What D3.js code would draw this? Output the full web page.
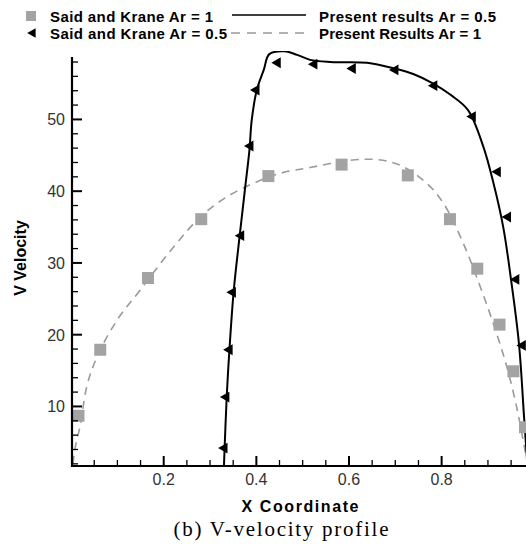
<!DOCTYPE html>
<html>
<head>
<meta charset="utf-8">
<script src="https://cdn.jsdelivr.net/npm/d3@7"></script>
<style>
  html, body { margin: 0; padding: 0; background: #fff; }
  svg { display: block; }
</style>
</head>
<body>
<svg id="chart" width="526" height="549"></svg>
<script>
// Experimental data: Said and Krane, Ar = 1 (grey squares)
const saidAr1X = [0.016, 0.063, 0.166, 0.281, 0.426, 0.584, 0.727, 0.818, 0.877, 0.925, 0.955, 0.980];
const saidAr1Y = [8.7, 17.9, 27.9, 36.1, 42.1, 43.7, 42.2, 36.1, 29.2, 21.4, 14.9, 7.1];

// Experimental data: Said and Krane, Ar = 0.5 (black left triangles)
const saidAr05X = [0.329, 0.333, 0.340, 0.347, 0.365, 0.385, 0.398, 0.444, 0.523, 0.606, 0.698, 0.782, 0.865, 0.919, 0.941, 0.959, 0.973];
const saidAr05Y = [4.2, 11.3, 17.9, 25.9, 33.8, 46.3, 54.1, 57.9, 57.7, 57.1, 56.9, 54.7, 50.4, 42.7, 36.4, 27.7, 18.5];

// Computed profile, Ar = 0.5 (solid line)
const presAr05X = [0.330, 0.336, 0.342, 0.351, 0.364, 0.376, 0.385, 0.390, 0.401, 0.416, 0.428, 0.461, 0.488, 0.516, 0.559, 0.639, 0.698, 0.740, 0.782, 0.820, 0.857, 0.890, 0.912, 0.933, 0.950, 0.967, 0.978, 0.985];
const presAr05Y = [1.7, 11.3, 18.0, 26.0, 33.8, 40.6, 45.7, 49.9, 54.1, 56.9, 59.1, 59.5, 59.0, 58.3, 58.0, 57.9, 57.1, 56.3, 55.0, 53.4, 51.3, 46.2, 41.1, 35.0, 27.6, 18.7, 8.5, 2.0];

// Computed profile, Ar = 1 (grey dashed line)
const presAr1X = [0.004, 0.009, 0.020, 0.034, 0.056, 0.099, 0.149, 0.221, 0.279, 0.336, 0.394, 0.452, 0.516, 0.603, 0.660, 0.711, 0.768, 0.804, 0.847, 0.894, 0.919, 0.941, 0.962, 0.980, 0.986];
const presAr1Y = [2.0, 4.3, 7.4, 12.8, 16.9, 22.0, 26.2, 32.2, 36.4, 39.2, 41.1, 42.5, 43.3, 44.3, 44.4, 43.6, 41.1, 38.3, 32.7, 24.8, 20.1, 15.5, 9.9, 3.9, 1.8];

// Axis ticks
const xMajorTicks = [0.2, 0.4, 0.6, 0.8];
const xTickLabels = ["0.2", "0.4", "0.6", "0.8"];
const yMajorTicks = [10, 20, 30, 40, 50];
const yTickLabels = ["10", "20", "30", "40", "50"];

const xMinorTicks = d3.range(0.05, 0.98, 0.05).filter(v => !xMajorTicks.some(m => Math.abs(m - v) < 1e-6));
const yMinorTicks = d3.range(2, 59, 2).filter(v => v % 10 !== 0);

const svg = d3.select("#chart");
const plotL = 72, plotR = 525, plotT = 57, plotB = 466;

const x = d3.scaleLinear().domain([0.002, 0.98]).range([plotL, plotR]);
const y = d3.scaleLinear().domain([1.7, 58.7]).range([plotB, plotT]);

const zip = (xs, ys) => xs.map((v, i) => ({ x: v, y: ys[i] }));

// Clip region for the plotted data
svg.append("defs").append("clipPath").attr("id", "plotClip")
  .append("rect").attr("x", plotL).attr("y", plotT - 6).attr("width", plotR - plotL + 2).attr("height", plotB - plotT + 6);

const plot = svg.append("g").attr("clip-path", "url(#plotClip)");

const line = d3.line().x(d => x(d.x)).y(d => y(d.y)).curve(d3.curveCatmullRom.alpha(0.5));

// Dashed grey curve (Ar = 1)
plot.append("path")
  .datum(zip(presAr1X, presAr1Y))
  .attr("d", line)
  .attr("fill", "none")
  .attr("stroke", "#9a9a9a")
  .attr("stroke-width", 1.6)
  .attr("stroke-dasharray", "8,6");

// Solid black curve (Ar = 0.5)
plot.append("path")
  .datum(zip(presAr05X, presAr05Y))
  .attr("d", line)
  .attr("fill", "none")
  .attr("stroke", "#000")
  .attr("stroke-width", 2);

// Square markers
const sq = 12;
plot.selectAll("rect.sq")
  .data(zip(saidAr1X, saidAr1Y))
  .join("rect")
  .attr("class", "sq")
  .attr("x", d => x(d.x) - sq / 2)
  .attr("y", d => y(d.y) - sq / 2)
  .attr("width", sq)
  .attr("height", sq)
  .attr("fill", "#a3a3a3");

// Left-pointing triangle markers
const tri = (cx, cy, s) => `M${cx - s * 0.6},${cy} L${cx + s * 0.45},${cy - s * 0.6} L${cx + s * 0.45},${cy + s * 0.6} Z`;
plot.selectAll("path.tri")
  .data(zip(saidAr05X, saidAr05Y))
  .join("path")
  .attr("class", "tri")
  .attr("d", d => tri(x(d.x), y(d.y), 9))
  .attr("fill", "#000");

// Axes
const axes = svg.append("g").attr("stroke", "#000");
axes.append("line").attr("x1", plotL).attr("x2", plotL).attr("y1", plotT).attr("y2", plotB + 1).attr("stroke-width", 2.2);
axes.append("line").attr("x1", plotL - 1).attr("x2", 526).attr("y1", plotB).attr("y2", plotB).attr("stroke-width", 2.2);

// Ticks point into the plot
axes.selectAll("line.xmaj").data(xMajorTicks).join("line")
  .attr("x1", d => x(d)).attr("x2", d => x(d)).attr("y1", plotB).attr("y2", plotB - 10).attr("stroke-width", 2);
axes.selectAll("line.xmin").data(xMinorTicks).join("line")
  .attr("x1", d => x(d)).attr("x2", d => x(d)).attr("y1", plotB).attr("y2", plotB - 6).attr("stroke-width", 1.3);
axes.selectAll("line.ymaj").data(yMajorTicks).join("line")
  .attr("x1", plotL).attr("x2", plotL + 10).attr("y1", d => y(d)).attr("y2", d => y(d)).attr("stroke-width", 2);
axes.selectAll("line.ymin").data(yMinorTicks).join("line")
  .attr("x1", plotL).attr("x2", plotL + 6).attr("y1", d => y(d)).attr("y2", d => y(d)).attr("stroke-width", 1.3);

// Tick labels
const labelFont = "'Liberation Sans', Arial, sans-serif";
svg.selectAll("text.xl").data(xMajorTicks).join("text")
  .attr("x", d => x(d)).attr("y", 485)
  .attr("text-anchor", "middle")
  .attr("font-family", labelFont).attr("font-size", 16).attr("fill", "#333")
  .text((d, i) => xTickLabels[i]);
svg.selectAll("text.yl").data(yMajorTicks).join("text")
  .attr("x", plotL - 7).attr("y", d => y(d) + 6)
  .attr("text-anchor", "end")
  .attr("font-family", labelFont).attr("font-size", 16).attr("fill", "#333")
  .text((d, i) => yTickLabels[i]);

// Axis titles
svg.append("text")
  .attr("x", 300).attr("y", 512)
  .attr("text-anchor", "middle")
  .attr("font-family", labelFont).attr("font-size", 16).attr("font-weight", "bold")
  .attr("textLength", 117).attr("lengthAdjust", "spacing")
  .text("X Coordinate");
svg.append("text")
  .attr("transform", "translate(26,258) rotate(-90)")
  .attr("text-anchor", "middle")
  .attr("font-family", labelFont).attr("font-size", 16).attr("font-weight", "bold")
  .text("V Velocity");

// Caption
svg.append("text")
  .attr("x", 281).attr("y", 536)
  .attr("text-anchor", "middle")
  .attr("font-family", "'Liberation Serif', 'Times New Roman', serif").attr("font-size", 21)
  .attr("textLength", 215).attr("lengthAdjust", "spacing")
  .text("(b) V-velocity profile");

// Legend
const leg = svg.append("g").attr("font-family", labelFont).attr("font-size", 15).attr("font-weight", "bold");
leg.append("rect").attr("x", 26).attr("y", 11).attr("width", 10).attr("height", 10).attr("fill", "#a3a3a3");
leg.append("text").attr("x", 50).attr("y", 22).attr("textLength", 163).attr("lengthAdjust", "spacing").text("Said and Krane Ar = 1");
leg.append("path").attr("d", tri(32, 33, 8)).attr("fill", "#000");
leg.append("text").attr("x", 50).attr("y", 39).attr("textLength", 177).attr("lengthAdjust", "spacing").text("Said and Krane Ar = 0.5");
leg.append("line").attr("x1", 232).attr("x2", 306).attr("y1", 15).attr("y2", 15).attr("stroke", "#000").attr("stroke-width", 1.6);
leg.append("line").attr("x1", 231).attr("x2", 309).attr("y1", 33).attr("y2", 33).attr("stroke", "#9a9a9a").attr("stroke-width", 1.4).attr("stroke-dasharray", "9,7");
leg.append("text").attr("x", 319).attr("y", 22).attr("textLength", 177).attr("lengthAdjust", "spacing").text("Present results Ar = 0.5");
leg.append("text").attr("x", 319).attr("y", 39).attr("textLength", 162).attr("lengthAdjust", "spacing").text("Present Results Ar = 1");
</script>
</body>
</html>
